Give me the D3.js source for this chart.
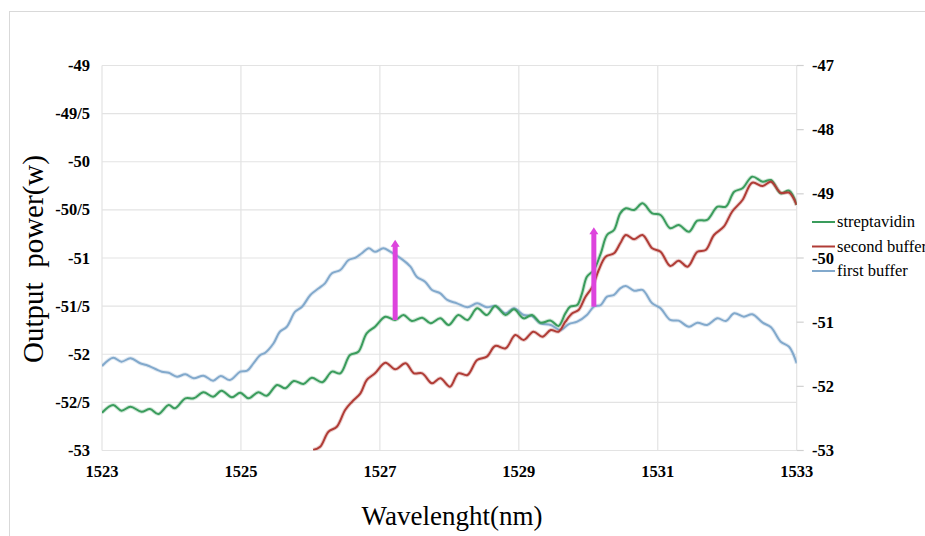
<!DOCTYPE html>
<html>
<head>
<meta charset="utf-8">
<script src="https://cdn.jsdelivr.net/npm/d3@7"></script>
<style>
  body { margin: 0; background: #fff; }
  svg { display: block; }
</style>
</head>
<body>
<svg id="chart" width="925" height="536" font-family="'Liberation Serif', 'Times New Roman', serif"></svg>
<script>
// [wavelength nm, output power]
const firstBuffer = [
  [1523.00,-52.122],[1523.16,-52.036],[1523.28,-52.077],[1523.41,-52.042],[1523.55,-52.094],
  [1523.64,-52.112],[1523.86,-52.181],[1523.96,-52.192],[1524.08,-52.233],[1524.20,-52.208],
  [1524.32,-52.250],[1524.46,-52.223],[1524.60,-52.275],[1524.71,-52.226],[1524.84,-52.268],
  [1524.99,-52.181],[1525.09,-52.171],[1525.18,-52.094],[1525.28,-52.008],[1525.35,-51.984],
  [1525.47,-51.886],[1525.56,-51.766],[1525.66,-51.714],[1525.78,-51.558],[1525.88,-51.506],
  [1526.00,-51.384],[1526.12,-51.315],[1526.21,-51.263],[1526.31,-51.159],[1526.43,-51.125],
  [1526.55,-51.021],[1526.65,-50.997],[1526.74,-50.951],[1526.84,-50.899],[1526.93,-50.935],
  [1527.05,-50.899],[1527.15,-50.935],[1527.32,-51.014],[1527.44,-51.090],[1527.53,-51.194],
  [1527.65,-51.246],[1527.75,-51.332],[1527.87,-51.367],[1527.97,-51.436],[1528.11,-51.471],
  [1528.26,-51.512],[1528.40,-51.471],[1528.54,-51.512],[1528.66,-51.499],[1528.81,-51.575],
  [1528.93,-51.523],[1529.07,-51.592],[1529.19,-51.603],[1529.31,-51.678],[1529.46,-51.696],
  [1529.60,-51.748],[1529.72,-51.686],[1529.84,-51.662],[1529.98,-51.592],[1530.08,-51.506],
  [1530.18,-51.488],[1530.27,-51.402],[1530.37,-51.384],[1530.46,-51.315],[1530.54,-51.291],
  [1530.66,-51.340],[1530.78,-51.332],[1530.92,-51.471],[1531.04,-51.523],[1531.18,-51.644],
  [1531.30,-51.651],[1531.45,-51.714],[1531.57,-51.672],[1531.71,-51.696],[1531.86,-51.627],
  [1531.98,-51.655],[1532.10,-51.575],[1532.24,-51.610],[1532.36,-51.585],[1532.51,-51.672],
  [1532.63,-51.720],[1532.77,-51.870],[1532.89,-51.922],[1533.00,-52.094]
];

const streptavidin = [
  [1523.00,-52.607],[1523.16,-52.527],[1523.28,-52.586],[1523.41,-52.545],[1523.57,-52.597],
  [1523.69,-52.569],[1523.81,-52.621],[1523.96,-52.527],[1524.05,-52.562],[1524.20,-52.458],
  [1524.32,-52.458],[1524.46,-52.395],[1524.60,-52.441],[1524.72,-52.379],[1524.87,-52.447],
  [1524.99,-52.400],[1525.11,-52.458],[1525.25,-52.395],[1525.37,-52.431],[1525.52,-52.319],
  [1525.64,-52.354],[1525.76,-52.278],[1525.90,-52.309],[1526.02,-52.244],[1526.17,-52.291],
  [1526.31,-52.181],[1526.43,-52.198],[1526.57,-52.008],[1526.69,-51.974],[1526.81,-51.782],
  [1526.93,-51.714],[1527.08,-51.610],[1527.22,-51.644],[1527.34,-51.592],[1527.46,-51.655],
  [1527.61,-51.620],[1527.73,-51.678],[1527.87,-51.627],[1527.99,-51.696],[1528.13,-51.592],
  [1528.26,-51.644],[1528.40,-51.523],[1528.54,-51.592],[1528.66,-51.499],[1528.81,-51.592],
  [1528.93,-51.533],[1529.07,-51.627],[1529.19,-51.592],[1529.31,-51.672],[1529.46,-51.651],
  [1529.57,-51.706],[1529.67,-51.575],[1529.74,-51.506],[1529.84,-51.488],[1529.91,-51.367],
  [1529.98,-51.194],[1530.08,-51.125],[1530.18,-50.951],[1530.27,-50.761],[1530.37,-50.709],
  [1530.46,-50.536],[1530.54,-50.484],[1530.66,-50.501],[1530.78,-50.432],[1530.92,-50.536],
  [1531.04,-50.553],[1531.18,-50.691],[1531.30,-50.657],[1531.45,-50.727],[1531.57,-50.612],
  [1531.71,-50.605],[1531.86,-50.467],[1531.98,-50.467],[1532.10,-50.311],[1532.22,-50.276],
  [1532.36,-50.155],[1532.51,-50.207],[1532.63,-50.190],[1532.77,-50.328],[1532.89,-50.301],
  [1533.00,-50.449]
];

const secondBuffer = [
  [1526.04,-52.995],[1526.14,-52.961],[1526.26,-52.805],[1526.38,-52.753],[1526.50,-52.579],
  [1526.60,-52.493],[1526.72,-52.406],[1526.81,-52.268],[1526.93,-52.198],[1527.08,-52.088],
  [1527.22,-52.156],[1527.37,-52.094],[1527.49,-52.198],[1527.61,-52.198],[1527.75,-52.302],
  [1527.87,-52.250],[1528.01,-52.337],[1528.13,-52.198],[1528.26,-52.216],[1528.40,-52.060],
  [1528.54,-52.025],[1528.66,-51.914],[1528.81,-51.938],[1528.95,-51.800],[1529.07,-51.852],
  [1529.21,-51.766],[1529.34,-51.818],[1529.46,-51.748],[1529.57,-51.766],[1529.67,-51.662],
  [1529.77,-51.575],[1529.86,-51.540],[1529.96,-51.402],[1530.06,-51.298],[1530.15,-51.125],
  [1530.25,-50.986],[1530.37,-50.951],[1530.46,-50.847],[1530.54,-50.761],[1530.66,-50.806],
  [1530.78,-50.761],[1530.92,-50.899],[1531.04,-50.935],[1531.18,-51.083],[1531.30,-51.028],
  [1531.43,-51.090],[1531.57,-50.935],[1531.69,-50.917],[1531.81,-50.761],[1531.95,-50.675],
  [1532.07,-50.519],[1532.22,-50.397],[1532.36,-50.218],[1532.51,-50.252],[1532.63,-50.207],
  [1532.77,-50.322],[1532.89,-50.322],[1533.00,-50.449]
];

const xTicks = [1523, 1525, 1527, 1529, 1531, 1533];
const leftTicks = [-49, -49.5, -50, -50.5, -51, -51.5, -52, -52.5, -53];
const leftTickLabels = ["-49", "-49/5", "-50", "-50/5", "-51", "-51/5", "-52", "-52/5", "-53"];
const rightTicks = [-47, -48, -49, -50, -51, -52, -53];

// shift arrows: [wavelength, from power, to power]
const shifts = [
  [1527.22, -51.644, -50.82],
  [1530.08, -51.506, -50.69]
];

const seriesNames = ["streptavidin", "second buffer", "first buffer"];
const seriesColors = ["#3a9c5c", "#b03c36", "#82a9cc"];

const svg = d3.select("#chart");
const plotLeft = 102, plotRight = 796.7, plotTop = 65.5, plotBottom = 450.5;

const x = d3.scaleLinear().domain([1523, 1533]).range([plotLeft, plotRight]);
const y = d3.scaleLinear().domain([-53, -49]).range([plotBottom, plotTop]);
const y2 = d3.scaleLinear().domain([-53, -47]).range([plotBottom, plotTop]);

// outer chart frame (only top/left edges visible)
svg.append("rect")
  .attr("x", 9.5).attr("y", 11.5)
  .attr("width", 1000).attr("height", 1000)
  .attr("fill", "none").attr("stroke", "#d9d9d9");

// grid
svg.append("g").selectAll("line").data(leftTicks).join("line")
  .attr("x1", plotLeft).attr("x2", plotRight)
  .attr("y1", d => y(d)).attr("y2", d => y(d))
  .attr("stroke", "#e3e3e3").attr("stroke-width", 1.2);
svg.append("g").selectAll("line").data(xTicks).join("line")
  .attr("x1", d => x(d)).attr("x2", d => x(d))
  .attr("y1", plotTop).attr("y2", plotBottom)
  .attr("stroke", "#e3e3e3").attr("stroke-width", 1.2);

// right axis tick marks
svg.append("g").selectAll("line").data(rightTicks).join("line")
  .attr("x1", plotRight).attr("x2", plotRight + 7)
  .attr("y1", d => y2(d)).attr("y2", d => y2(d))
  .attr("stroke", "#d0d0d0").attr("stroke-width", 1.2);

// tick labels
svg.append("g").selectAll("text").data(leftTicks).join("text")
  .attr("x", 90).attr("y", d => y(d) + 5.5)
  .attr("text-anchor", "end")
  .attr("font-size", 16.5).attr("font-weight", "bold")
  .text((d, i) => leftTickLabels[i]);

svg.append("g").selectAll("text").data(rightTicks).join("text")
  .attr("x", 812).attr("y", d => y2(d) + 5.5)
  .attr("font-size", 16.5).attr("font-weight", "bold")
  .text(d => String(d));

svg.append("g").selectAll("text").data(xTicks).join("text")
  .attr("x", d => x(d)).attr("y", 477)
  .attr("text-anchor", "middle")
  .attr("font-size", 16.5).attr("font-weight", "bold")
  .text(d => d);

// axis titles
svg.append("text")
  .attr("transform", "translate(43,259) rotate(-90)")
  .attr("text-anchor", "middle")
  .attr("font-size", 29)
  .attr("xml:space", "preserve")
  .text("Output  power(w)");

svg.append("text")
  .attr("x", 452).attr("y", 525)
  .attr("text-anchor", "middle")
  .attr("font-size", 27)
  .text("Wavelenght(nm)");

// lines
svg.append("clipPath").attr("id", "plot")
  .append("rect").attr("x", plotLeft).attr("y", plotTop)
  .attr("width", plotRight - plotLeft).attr("height", plotBottom - plotTop);

const line = d3.line()
  .x(d => x(d[0])).y(d => y(d[1]))
  .curve(d3.curveCatmullRom.alpha(0.5));

const plot = svg.append("g").attr("clip-path", "url(#plot)");
const allSeries = [streptavidin, secondBuffer, firstBuffer];
[firstBuffer, streptavidin, secondBuffer].forEach(s => {
  const c = seriesColors[allSeries.indexOf(s)];
  plot.append("path").attr("d", line(s))
    .attr("fill", "none").attr("stroke", c)
    .attr("stroke-width", 4).attr("stroke-opacity", 0.25);
  plot.append("path").attr("d", line(s))
    .attr("fill", "none").attr("stroke", c)
    .attr("stroke-width", 2);
});

// magenta arrows
shifts.forEach(([w, p0, p1]) => {
  const cx = x(w);
  svg.append("line")
    .attr("x1", cx).attr("x2", cx)
    .attr("y1", y(p0)).attr("y2", y(p1) + 5)
    .attr("stroke", "#dd44dd").attr("stroke-width", 5);
  svg.append("path")
    .attr("d", `M${cx - 4.5},${y(p1) + 6}L${cx},${y(p1) - 1}L${cx + 4.5},${y(p1) + 6}Z`)
    .attr("fill", "#dd44dd");
});

// legend
const legend = svg.append("g").selectAll("g").data(seriesNames).join("g")
  .attr("transform", (d, i) => `translate(812,${222 + i * 24.5})`);
legend.append("line")
  .attr("x1", 0).attr("x2", 23)
  .attr("stroke", (d, i) => seriesColors[i]).attr("stroke-width", 2);
legend.append("text")
  .attr("x", 25).attr("y", 5)
  .attr("font-size", 16.5)
  .text(d => d);
</script>
</body>
</html>
